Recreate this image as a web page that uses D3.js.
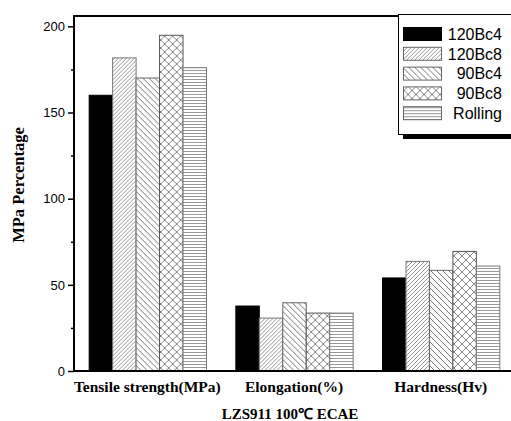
<!DOCTYPE html>
<html>
<head>
<meta charset="utf-8">
<script src="https://cdn.jsdelivr.net/npm/d3@7"></script>
<style>
  body { margin: 0; background: #fff; }
  svg { display: block; }
</style>
</head>
<body>
<svg id="chart" width="511" height="421"></svg>
<script>
// datos
const categories = ["Tensile strength(MPa)", "Elongation(%)", "Hardness(Hv)"];
const series = ["120Bc4", "120Bc8", "90Bc4", "90Bc8", "Rolling"];
const v120Bc4 = [160, 37.7, 54];
const v120Bc8 = [181.7, 30.7, 63.6];
const v90Bc4 = [170, 39.6, 58.4];
const v90Bc8 = [194.8, 33.6, 69.4];
const vRolling = [176, 33.6, 60.9];
const yTicks = [0, 50, 100, 150, 200];
const yMinor = [25, 75, 125, 175];

const values = [v120Bc4, v120Bc8, v90Bc4, v90Bc8, vRolling];

const svg = d3.select("#chart");

// patrones de relleno
const defs = svg.append("defs");
function pattern(id, size, draw) {
  const p = defs.append("pattern")
    .attr("id", id)
    .attr("patternUnits", "userSpaceOnUse")
    .attr("width", size).attr("height", size);
  p.append("rect").attr("width", size).attr("height", size).attr("fill", "#fff");
  draw(p, size);
}
pattern("p0", 4, (p) => p.append("rect").attr("width", 4).attr("height", 4).attr("fill", "#000"));
pattern("p1", 4, (p, s) => p.append("path")
  .attr("d", `M0,${s} L${s},0 M-1,1 L1,-1 M${s - 1},${s + 1} L${s + 1},${s - 1}`)
  .attr("stroke", "#999").attr("stroke-width", 1));
pattern("p2", 6, (p, s) => p.append("path")
  .attr("d", `M0,0 L${s},${s} M-1,${s - 1} L1,${s + 1} M${s - 1},-1 L${s + 1},1`)
  .attr("stroke", "#777").attr("stroke-width", 1));
pattern("p3", 8, (p, s) => p.append("path")
  .attr("d", `M0,0 L${s},${s} M0,${s} L${s},0`)
  .attr("stroke", "#888").attr("stroke-width", 1));
pattern("p4", 3, (p) => p.append("line")
  .attr("x1", 0).attr("x2", 3).attr("y1", 1.5).attr("y2", 1.5)
  .attr("stroke", "#999").attr("stroke-width", 1));

const fills = series.map((s, i) => `url(#p${i})`);
const strokes = ["#000", "#777", "#666", "#555", "#777"];

// escalas
const x = d3.scaleBand().domain(categories).range([74, 514]).paddingInner(0.2).paddingOuter(0.1);
const xs = d3.scaleBand().domain(series).range([0, x.bandwidth()]);
const y = d3.scaleLinear().domain([0, 206]).range([371, 16]);

// barras
const groups = svg.append("g").selectAll("g")
  .data(categories)
  .join("g")
  .attr("transform", d => `translate(${x(d)},0)`);

groups.selectAll("rect")
  .data((c, ci) => series.map((s, si) => ({ s, si, v: values[si][ci] })))
  .join("rect")
  .attr("x", d => xs(d.s) + 0.5)
  .attr("y", d => y(d.v))
  .attr("width", xs.bandwidth())
  .attr("height", d => y(0) - y(d.v))
  .attr("fill", d => fills[d.si])
  .attr("stroke", d => strokes[d.si])
  .attr("stroke-width", 1);

// ejes
const yAxis = svg.append("g").attr("transform", "translate(74,0)")
  .call(d3.axisLeft(y).tickValues(yTicks).tickSize(6).tickPadding(3).tickSizeOuter(0));
yAxis.select(".domain").remove();
yAxis.selectAll(".tick line").attr("stroke-width", 1.5);
yAxis.selectAll("text")
  .style("font-family", "'Liberation Sans', Arial, sans-serif")
  .style("font-size", "13px").attr("fill", "#000");

svg.append("g").attr("transform", "translate(74,0)")
  .call(d3.axisLeft(y).tickValues(yMinor).tickSize(3).tickFormat(""))
  .call(g => g.select(".domain").remove())
  .selectAll("line").attr("stroke-width", 1.5);

// marco
svg.append("path")
  .attr("d", `M74,${y(0)} L74,${y(206)} L400,${y(206)}`)
  .attr("fill", "none").attr("stroke", "#000").attr("stroke-width", 2);
svg.append("line")
  .attr("x1", 74).attr("x2", 511).attr("y1", y(0)).attr("y2", y(0))
  .attr("stroke", "#000").attr("stroke-width", 2);

// etiquetas de categorias
svg.append("g").selectAll("text")
  .data(categories)
  .join("text")
  .attr("x", d => x(d) + x.bandwidth() / 2)
  .attr("y", 392)
  .attr("text-anchor", "middle")
  .style("font-family", "'Liberation Serif', 'Times New Roman', serif")
  .style("font-weight", "bold")
  .style("font-size", "15.5px")
  .text(d => d);

// titulos
svg.append("text")
  .attr("x", 290).attr("y", 419)
  .attr("text-anchor", "middle")
  .style("font-family", "'Liberation Serif', 'Times New Roman', serif")
  .style("font-weight", "bold").style("font-size", "15px")
  .text("LZS911 100℃ ECAE");

svg.append("text")
  .attr("transform", "translate(24,185) rotate(-90)")
  .attr("text-anchor", "middle")
  .style("font-family", "'Liberation Serif', 'Times New Roman', serif")
  .style("font-weight", "bold").style("font-size", "16.5px")
  .text("MPa Percentage");

// leyenda
const lg = svg.append("g");
lg.append("rect").attr("x", 403).attr("y", 19).attr("width", 130).attr("height", 120).attr("fill", "#000");
lg.append("rect").attr("x", 398.5).attr("y", 14.5).attr("width", 130).attr("height", 120)
  .attr("fill", "#fff").attr("stroke", "#000").attr("stroke-width", 1);

const rows = lg.selectAll("g.row")
  .data(series)
  .join("g")
  .attr("class", "row")
  .attr("transform", (d, i) => `translate(0,${27 + i * 19.8})`);
rows.append("rect")
  .attr("x", 403.5).attr("y", 0.5).attr("width", 38).attr("height", 13)
  .attr("fill", (d, i) => fills[i])
  .attr("stroke", (d, i) => i === 0 ? "#000" : "#666");
rows.append("text")
  .attr("x", 502).attr("y", 7)
  .attr("dy", "0.36em")
  .attr("text-anchor", "end")
  .style("font-family", "'Liberation Sans', Arial, sans-serif")
  .style("font-size", "16px")
  .text(d => d);
</script>
</body>
</html>
